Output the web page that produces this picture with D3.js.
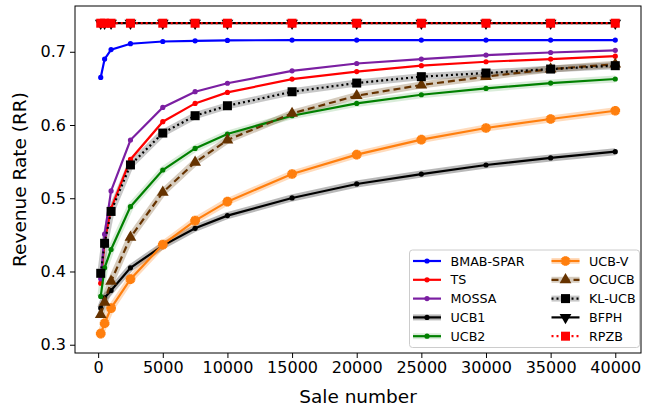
<!DOCTYPE html>
<html>
<head>
<meta charset="utf-8">
<script src="https://cdn.jsdelivr.net/npm/d3@7"></script>
<style>
  body { margin: 0; background: #fff; }
  text { font-family: "DejaVu Sans", sans-serif; }
</style>
</head>
<body>
<div id="chart"></div>
<script>
// sale numbers where each algorithm was measured
const saleNumber = [200, 500, 1000, 2500, 5000, 7500, 10000, 15000, 20000, 25000, 30000, 35000, 40000];

// revenue rate per algorithm
const bmabSpar = [0.665, 0.690, 0.703, 0.711, 0.714, 0.715, 0.7155, 0.716, 0.716, 0.716, 0.716, 0.716, 0.716];
const ts       = [0.384, 0.441, 0.486, 0.553, 0.6045, 0.6295, 0.6445, 0.6627, 0.673, 0.681, 0.6864, 0.690, 0.694];
const mossa    = [0.390, 0.451, 0.510, 0.5795, 0.624, 0.6455, 0.657, 0.674, 0.684, 0.690, 0.6955, 0.699, 0.702];
const ucb1     = [0.350, 0.364, 0.374, 0.405, 0.4353, 0.459, 0.4763, 0.5004, 0.5195, 0.533, 0.5454, 0.555, 0.5636];
const ucb2     = [0.366, 0.405, 0.430, 0.4885, 0.5386, 0.568, 0.5877, 0.6127, 0.6295, 0.6413, 0.650, 0.6573, 0.6628];
const ucbV     = [0.3152, 0.3293, 0.350, 0.3895, 0.4367, 0.4695, 0.4954, 0.5331, 0.5595, 0.580, 0.5959, 0.6082, 0.6195];
const ocucb    = [0.341, 0.358, 0.3867, 0.4467, 0.508, 0.549, 0.5795, 0.6158, 0.640, 0.6546, 0.666, 0.6764, 0.683];
const klUcb    = [0.3975, 0.4385, 0.482, 0.5455, 0.589, 0.6127, 0.6263, 0.6454, 0.6573, 0.666, 0.671, 0.6764, 0.681];
const bfph     = [0.739, 0.739, 0.739, 0.739, 0.739, 0.739, 0.739, 0.739, 0.739, 0.739, 0.739, 0.739, 0.739];
const rpzb     = [0.739, 0.739, 0.739, 0.739, 0.739, 0.739, 0.739, 0.739, 0.739, 0.739, 0.739, 0.739, 0.739];

const xTicks = [0, 5000, 10000, 15000, 20000, 25000, 30000, 35000, 40000];
const yTicks = [0.3, 0.4, 0.5, 0.6, 0.7];

// draw order = legend order
const series = [
  {name: 'BMAB-SPAR', values: bmabSpar, color: '#0000ff', marker: 'dot'},
  {name: 'TS',        values: ts,       color: '#ff0000', marker: 'dot'},
  {name: 'MOSSA',     values: mossa,    color: '#7b1fa2', marker: 'dot'},
  {name: 'UCB1',      values: ucb1,     color: '#000000', marker: 'dot', band: 'rgba(0,0,0,0.28)'},
  {name: 'UCB2',      values: ucb2,     color: '#008000', marker: 'dot', band: 'rgba(0,128,0,0.15)'},
  {name: 'UCB-V',     values: ucbV,     color: '#ff7f0e', marker: 'star', band: 'rgba(255,127,14,0.28)'},
  {name: 'OCUCB',     values: ocucb,    color: '#663300', marker: 'tri', dash: '7,4', band: 'rgba(120,85,40,0.3)'},
  {name: 'KL-UCB',    values: klUcb,    color: '#000000', marker: 'square', dash: '2,3', band: 'rgba(0,0,0,0.22)'},
  {name: 'BFPH',      values: bfph,     color: '#000000', marker: 'tridown'},
  {name: 'RPZB',      values: rpzb,     color: '#ff0000', marker: 'square', dash: '2,3'}
];

const width = 649, height = 410;
const plotLeft = 75, plotRight = 641, plotTop = 6, plotBottom = 353;

const svg = d3.select('#chart')
  .append('svg')
  .attr('width', width)
  .attr('height', height);

const x = d3.scaleLinear().domain([-1790, 41990]).range([plotLeft, plotRight]);
const y = d3.scaleLinear().domain([0.2887, 0.7625]).range([plotBottom, plotTop]);

const plot = svg.append('g');

const line = d3.line()
  .x((d, i) => x(saleNumber[i]))
  .y(d => y(d));

// translucent halos (the shaded spread around some curves)
series.filter(s => s.band).forEach(s => {
  plot.append('path')
    .attr('d', line(s.values))
    .attr('fill', 'none')
    .attr('stroke', s.band)
    .attr('stroke-width', 7)
    .attr('stroke-linejoin', 'round');
});

function drawMarker(g, type, color, cx, cy, scale) {
  scale = scale || 1;
  if (type == 'dot') {
    g.append('circle').attr('cx', cx).attr('cy', cy).attr('r', 2.6 * scale).attr('fill', color);
  } else if (type == 'square') {
    const s = 9 * scale;
    g.append('rect').attr('x', cx - s / 2).attr('y', cy - s / 2).attr('width', s).attr('height', s).attr('fill', color);
  } else if (type == 'tri' || type == 'tridown') {
    g.append('path')
      .attr('d', d3.symbol(d3.symbolTriangle, 60 * scale * scale)())
      .attr('transform', `translate(${cx},${cy})` + (type == 'tridown' ? ' rotate(180)' : ''))
      .attr('fill', color);
  } else if (type == 'star') {
    [0, 45].forEach(r => {
      g.append('path')
        .attr('d', d3.symbol(d3.symbolCross, 52 * scale * scale)())
        .attr('transform', `translate(${cx},${cy}) rotate(${r})`)
        .attr('fill', color);
    });
  }
}

series.forEach(s => {
  const g = plot.append('g');
  g.append('path')
    .attr('d', line(s.values))
    .attr('fill', 'none')
    .attr('stroke', s.color)
    .attr('stroke-width', 2.2)
    .attr('stroke-dasharray', s.dash || null);
  s.values.forEach((v, i) => drawMarker(g, s.marker, s.color, x(saleNumber[i]), y(v)));
});

// axes
svg.append('g')
  .attr('transform', `translate(0,${plotBottom})`)
  .call(d3.axisBottom(x).tickValues(xTicks).tickFormat(d3.format('d')).tickSizeOuter(0).tickSize(5).tickPadding(4))
  .call(g => g.select('.domain').remove())
  .selectAll('text').attr('font-size', 16).attr('fill', '#000').attr('font-family', 'DejaVu Sans');

svg.append('g')
  .attr('transform', `translate(${plotLeft},0)`)
  .call(d3.axisLeft(y).tickValues(yTicks).tickFormat(d3.format('.1f')).tickSizeOuter(0).tickSize(5).tickPadding(4))
  .call(g => g.select('.domain').remove())
  .selectAll('text').attr('font-size', 16).attr('fill', '#000').attr('font-family', 'DejaVu Sans');

svg.append('rect')
  .attr('x', plotLeft).attr('y', plotTop)
  .attr('width', plotRight - plotLeft).attr('height', plotBottom - plotTop)
  .attr('fill', 'none').attr('stroke', '#000').attr('stroke-width', 1);

svg.append('text')
  .attr('x', (plotLeft + plotRight) / 2).attr('y', 403)
  .attr('text-anchor', 'middle').attr('font-size', 18.5)
  .text('Sale number');

svg.append('text')
  .attr('transform', `translate(26,${(plotTop + plotBottom) / 2}) rotate(-90)`)
  .attr('text-anchor', 'middle').attr('font-size', 18.5)
  .text('Revenue Rate (RR)');

// legend, two columns of five
const legend = svg.append('g');
legend.append('rect')
  .attr('x', 409.5).attr('y', 250).attr('width', 230).attr('height', 97.5).attr('rx', 3)
  .attr('fill', 'rgba(255,255,255,0.85)').attr('stroke', '#ccc');

series.forEach((s, i) => {
  const col = Math.floor(i / 5), row = i % 5;
  const lx = col == 0 ? 413 : 551.5;
  const ly = 261 + row * 18.8;
  const g = legend.append('g');
  if (s.band) {
    g.append('line').attr('x1', lx).attr('x2', lx + 28).attr('y1', ly).attr('y2', ly)
      .attr('stroke', s.band).attr('stroke-width', 6);
  }
  g.append('line').attr('x1', lx).attr('x2', lx + 28).attr('y1', ly).attr('y2', ly)
    .attr('stroke', s.color).attr('stroke-width', 2.2).attr('stroke-dasharray', s.dash || null);
  drawMarker(g, s.marker, s.color, lx + 14, ly);
  g.append('text').attr('x', lx + 37.5).attr('y', ly + 4.5).attr('font-size', 12.7).text(s.name);
});
</script>
</body>
</html>
